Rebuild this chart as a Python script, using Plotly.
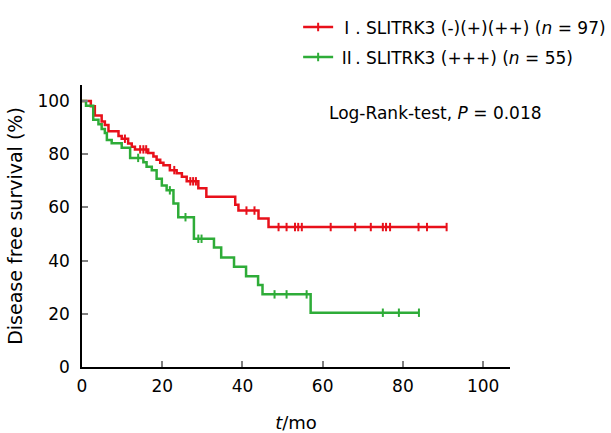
import plotly.graph_objects as go

# Group I: SLITRK3 (-)(+)(++), n = 97
time_I = [0, 2.2, 3.2, 4.9, 5.7, 6.6, 9.1, 9.9, 11.5, 12.4, 13.2, 16.5, 17.8, 18.6, 19.5,
          20.3, 21.9, 23.6, 24.9, 26.1, 29.0, 31.0, 38.2, 39.0, 44.0, 46.5, 91.0]
surv_I = [100, 98.0, 94.5, 92.3, 91.0, 88.6, 86.8, 85.8, 84.0, 82.8, 81.8, 80.4, 79.1, 77.9, 76.8,
          75.8, 74.0, 72.8, 71.5, 69.8, 67.2, 64.0, 61.0, 58.8, 55.8, 52.6, 52.6]
cens_t_I = [10.7, 14.5, 15.3, 16.0, 23.0, 27.0, 27.7, 28.4, 41.0, 43.0, 49.0, 51.0, 53.1, 53.9,
            54.8, 62.0, 68.1, 72.0, 75.0, 75.8, 76.8, 83.9, 86.0, 90.9]
cens_s_I = [85.8, 81.8, 81.8, 81.8, 74.0, 69.8, 69.8, 69.8, 58.8, 58.8, 52.6, 52.6, 52.6, 52.6,
            52.6, 52.6, 52.6, 52.6, 52.6, 52.6, 52.6, 52.6, 52.6, 52.6]

# Group II: SLITRK3 (+++), n = 55
time_II = [0, 1.0, 2.8, 4.1, 4.9, 5.7, 6.2, 7.4, 9.9, 12.0, 15.3, 16.1, 17.4, 18.6, 19.9,
           21.1, 22.8, 24.0, 27.9, 32.9, 34.7, 37.9, 40.9, 43.9, 45.0, 57.0, 84.0]
surv_II = [100, 98.2, 92.9, 91.2, 89.5, 88.0, 85.3, 84.1, 82.4, 78.6, 77.0, 75.3, 74.0, 70.8, 68.2,
           66.4, 61.5, 56.3, 48.2, 44.9, 41.2, 37.7, 34.1, 30.8, 27.3, 20.4, 20.4]
cens_t_II = [14.0, 21.9, 25.8, 29.0, 29.8, 48.0, 51.0, 56.0, 75.0, 79.0, 84.0]
cens_s_II = [78.6, 66.4, 56.3, 48.2, 48.2, 27.3, 27.3, 27.3, 20.4, 20.4, 20.4]

CJK = "<span style='font-family:\"Noto Sans CJK SC\"'>{}</span>"
names = [CJK.format("Ⅰ") + ". SLITRK3 (-)(+)(++) (<i>n</i> = 97)",
         CJK.format("Ⅱ") + ". SLITRK3 (+++) (<i>n</i> = 55)"]
red = "rgb(232,16,26)"
green = "rgb(46,172,56)"
FONT = "DejaVu Sans"

fig = go.Figure()
for t, s, ct, cs, col, nm, grp in [
    (time_I, surv_I, cens_t_I, cens_s_I, red, names[0], "g1"),
    (time_II, surv_II, cens_t_II, cens_s_II, green, names[1], "g2"),
]:
    fig.add_trace(go.Scatter(x=t, y=s, mode="lines", line=dict(color=col, width=2.5, shape="hv"),
                             showlegend=False, hoverinfo="skip"))
    fig.add_trace(go.Scatter(x=ct, y=cs, mode="markers", showlegend=False,
                             marker=dict(symbol="line-ns", size=6, line=dict(color=col, width=2))))
    fig.add_trace(go.Scatter(x=[None], y=[None], mode="lines+markers", name=nm, legendgroup=grp,
                             line=dict(color=col, width=2.5),
                             marker=dict(symbol="line-ns", size=6, line=dict(color=col, width=2))))

fig.update_layout(
    width=611, height=433,
    margin=dict(l=82, r=101, t=85, b=66, autoexpand=False),
    plot_bgcolor="white", paper_bgcolor="white",
    font=dict(family=FONT, size=17, color="black"),
    legend=dict(x=0.505, y=1.268, xanchor="left", yanchor="top",
                bgcolor="rgba(0,0,0,0)", font=dict(size=17), tracegroupgap=5, itemwidth=30),
    annotations=[dict(text="Log-Rank-test, <i>P</i> = 0.018", xref="paper", yref="paper",
                      x=0.825, y=0.90, xanchor="center", yanchor="middle", showarrow=False,
                      font=dict(size=17))],
)
fig.update_xaxes(range=[0, 106.7], tickvals=[0, 20, 40, 60, 80, 100], ticks="inside", ticklen=6,
                 tickcolor="gray", tickwidth=1.5, showline=True, linecolor="black", linewidth=1.5,
                 showgrid=False, zeroline=False, automargin=False, tickfont=dict(size=17),
                 title=dict(text="<i>t</i>/mo", standoff=22, font=dict(size=18)),
                 ticklabelstandoff=3)
fig.update_yaxes(range=[0, 106], tickvals=[0, 20, 40, 60, 80, 100], ticks="inside", ticklen=6,
                 tickcolor="gray", tickwidth=1.5, showline=True, linecolor="black", linewidth=1.5,
                 showgrid=False, zeroline=False, automargin=False, tickfont=dict(size=17),
                 title=dict(text="Disease free survival (%)", standoff=10, font=dict(size=19)),
                 ticklabelstandoff=7)

fig.write_html("out.html")
